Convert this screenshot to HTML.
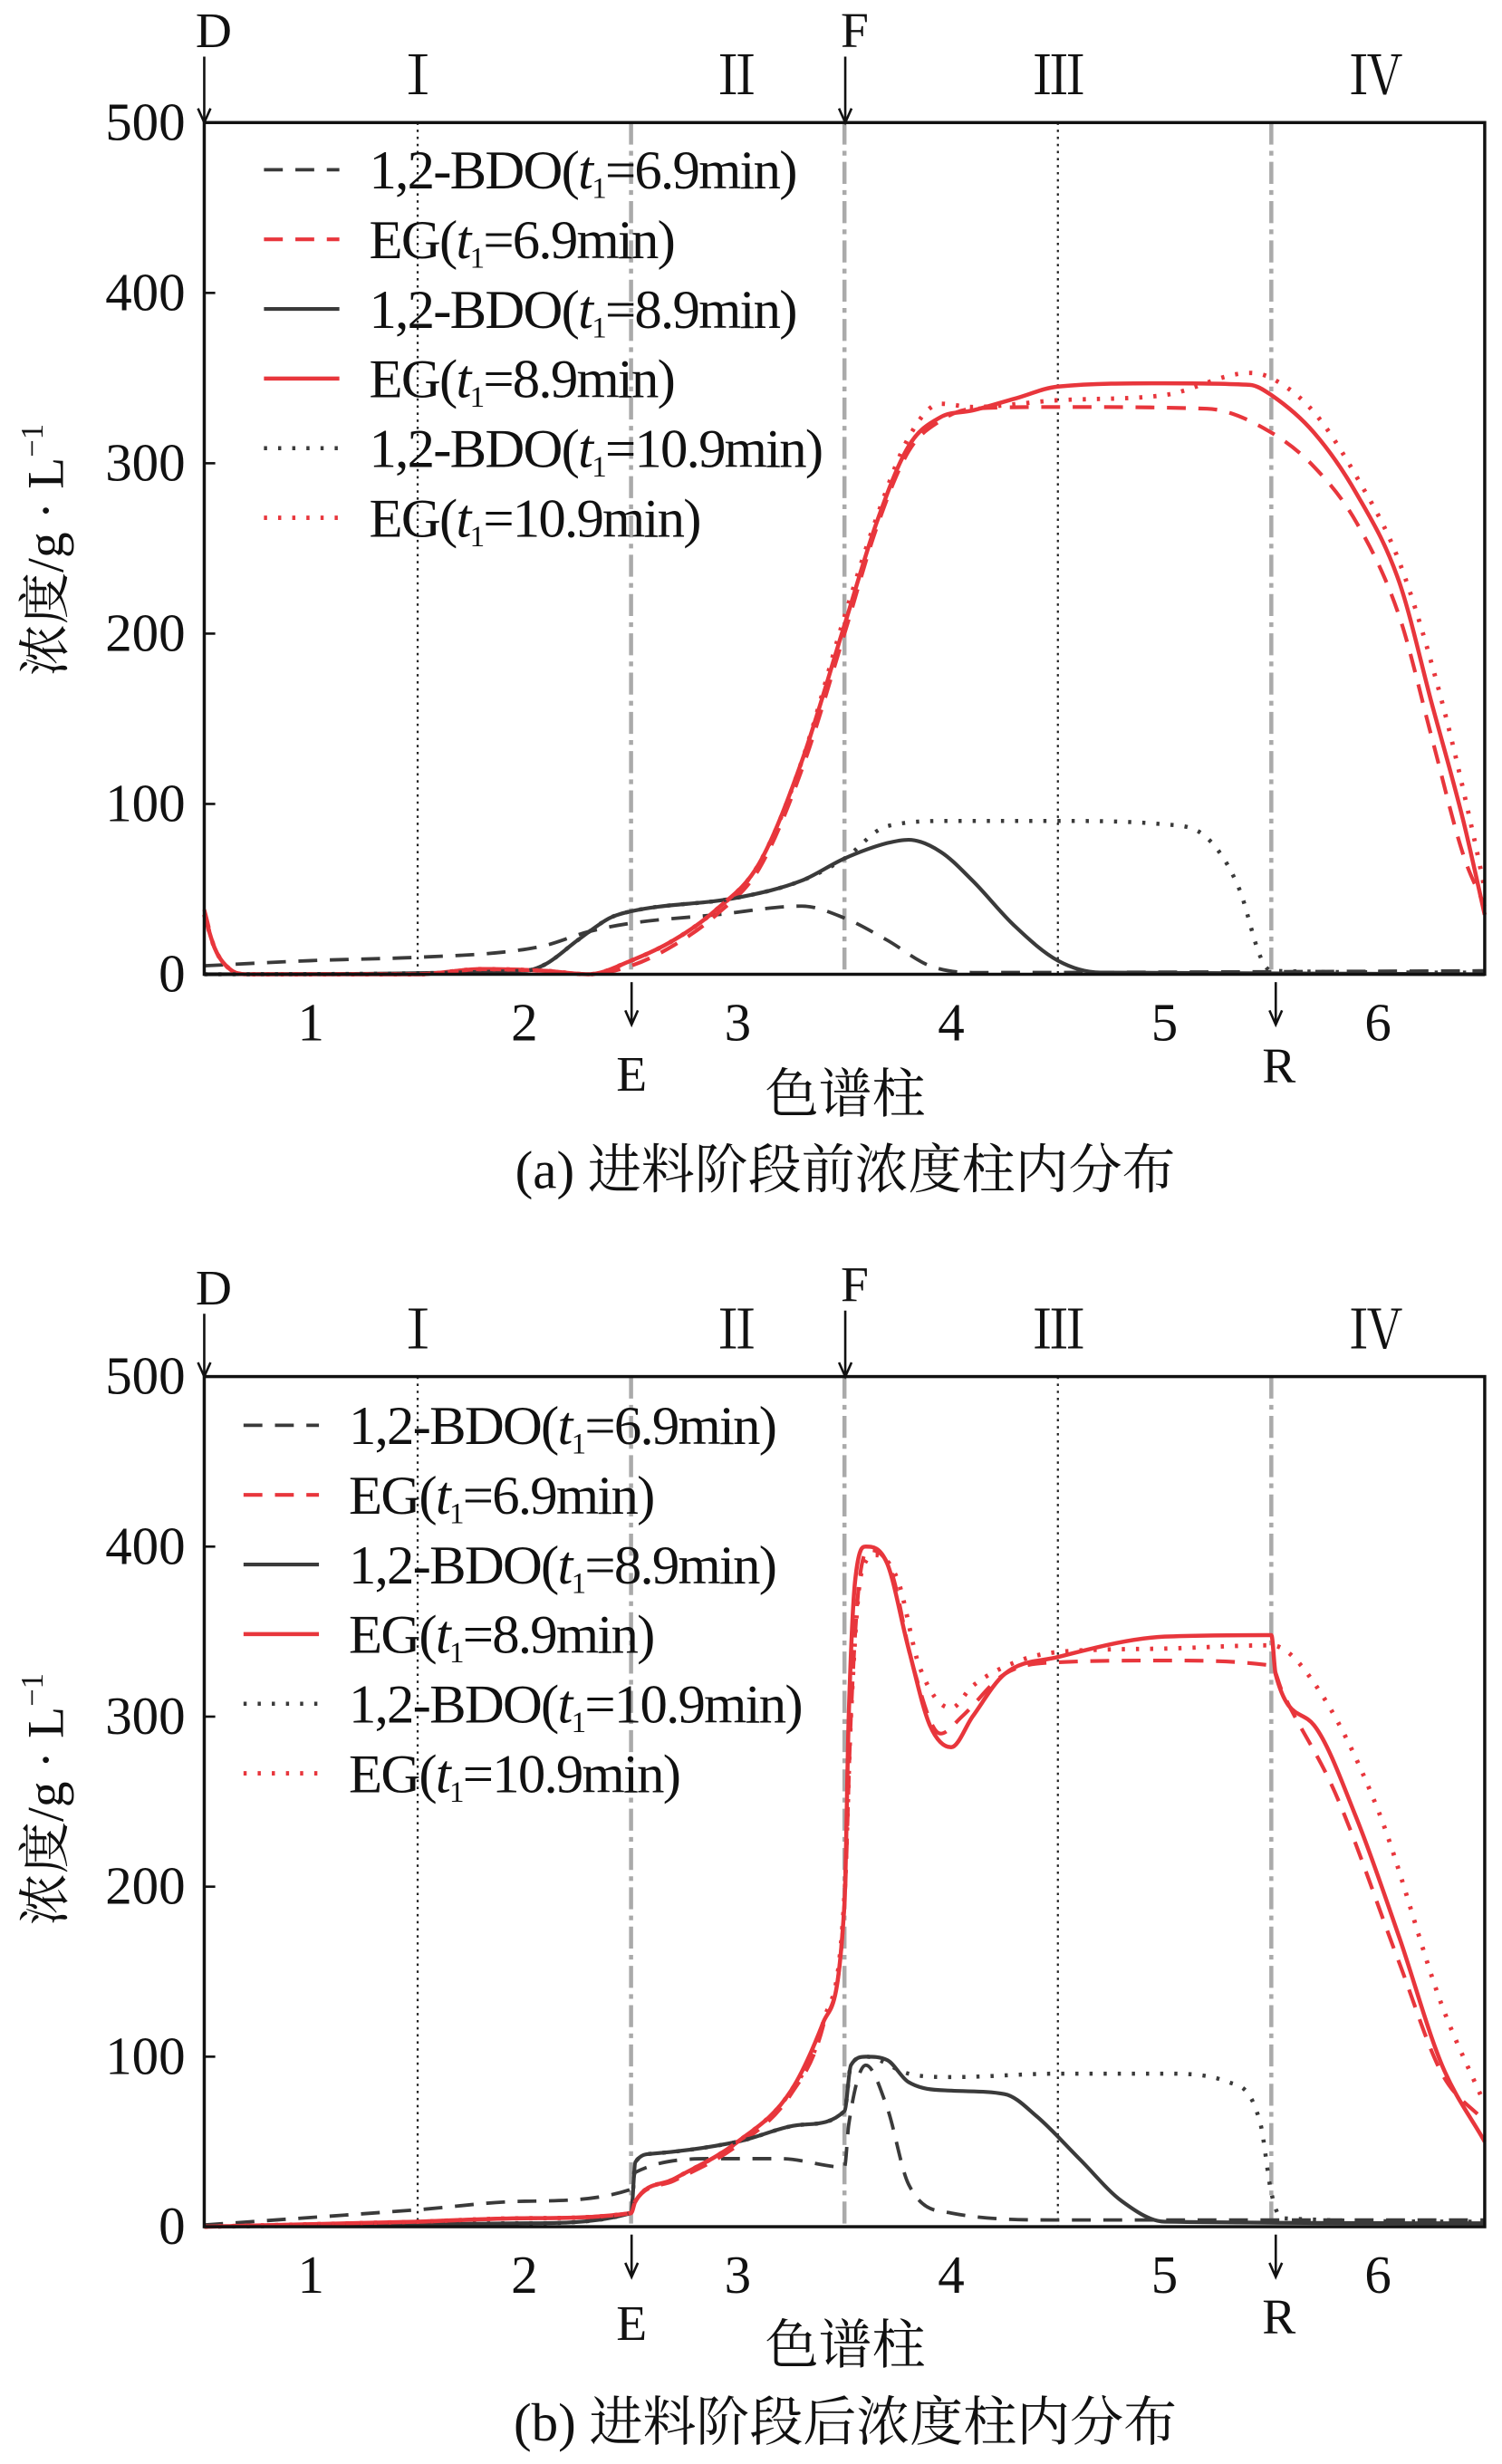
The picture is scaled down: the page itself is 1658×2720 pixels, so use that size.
<!DOCTYPE html>
<html><head><meta charset="utf-8"><style>
html,body{margin:0;padding:0;background:#fff;}
svg{display:block;}
text{font-family:"Liberation Serif","Noto Serif CJK SC","Noto Sans CJK SC",serif;fill:#111;}
</style></head><body>
<svg id="fig" width="1658" height="2720" viewBox="0 0 956 1568" preserveAspectRatio="none" xmlns="http://www.w3.org/2000/svg"></svg>
<script>
// ---- data (x in column units 0..6, y in g/L) ----
const yTicks = [0,100,200,300,400,500];
const xTickLabels = ["1","2","3","4","5","6"];
const legendLabels = ["1,2-BDO(t1=6.9min)","EG(t1=6.9min)","1,2-BDO(t1=8.9min)","EG(t1=8.9min)","1,2-BDO(t1=10.9min)","EG(t1=10.9min)"];

const aBdo69X=[0,0.5,1.0,1.4,1.6,1.8,2.0,2.4,2.8,3.0,3.2,3.4,3.6,6];
const aBdo69Y=[5,8,10,13,17,25,30,35,40,33,20,5,1,2];
const aEg69X=[0,0.05,0.12,0.2,1.0,1.3,1.6,1.8,2.0,2.2,2.4,2.6,2.8,3.0,3.15,3.3,3.45,3.6,4.0,4.7,5.0,5.2,5.4,5.6,5.75,5.9,6.0];
const aEg69Y=[38,15,3,0,0,3,2,0,5,17,35,62,120,200,262,307,325,332,333,332,318,298,265,210,140,70,40];
const aBdo89X=[0,1.5,1.6,1.75,1.9,2.0,2.5,2.8,3.0,3.2,3.3,3.45,3.6,3.8,4.0,4.2,6];
const aBdo89Y=[0,2,6,20,33,37,45,55,68,77,79,72,55,28,8,1,0];
const aEg89X=[0,0.05,0.12,0.2,1.0,1.3,1.6,1.8,2.0,2.2,2.4,2.6,2.8,3.0,3.15,3.3,3.45,3.6,3.8,4.0,4.5,4.9,5.0,5.2,5.4,5.6,5.75,5.9,6.0];
const aEg89Y=[35,15,3,0,0,3,2,0,8,20,38,65,125,205,265,310,327,331,338,345,347,346,340,318,282,230,160,90,35];
const aBdo109X=[0,1.5,1.6,1.75,1.9,2.0,2.5,2.8,3.0,3.2,3.5,4.0,4.5,4.7,4.85,4.95,5.0,6];
const aBdo109Y=[0,2,6,20,33,37,45,55,68,87,90,90,88,80,50,10,2,1];
const aEg109X=[0,0.05,0.12,0.2,1.0,1.3,1.6,1.8,2.0,2.2,2.4,2.6,2.8,3.0,3.15,3.3,3.45,3.6,4.0,4.5,4.9,5.0,5.2,5.4,5.6,5.8,5.95,6.0];
const aEg109Y=[35,15,3,0,0,3,2,0,8,20,38,65,125,210,268,315,335,333,337,340,353,350,330,292,242,160,80,50];

const bBdo69X=[0,1.0,1.5,2.0,2.02,2.4,2.7,3.0,3.02,3.1,3.2,3.3,3.5,4.0,6];
const bBdo69Y=[1,10,15,22,32,40,40,35,60,95,70,25,8,4,4];
const bEg69X=[0,1.0,1.5,2.0,2.02,2.2,2.5,2.75,2.9,3.0,3.03,3.07,3.12,3.22,3.32,3.45,3.55,3.75,4.0,4.5,5.0,5.05,5.3,5.6,5.8,6.0];
const bEg69Y=[0,3,5,8,15,27,48,78,118,190,300,380,398,385,330,290,300,325,332,333,330,315,255,155,90,62];
const bBdo89X=[0,1.5,2.0,2.02,2.1,2.5,2.8,3.0,3.03,3.1,3.2,3.3,3.5,3.75,3.9,4.1,4.3,4.5,6];
const bBdo89Y=[0,2,8,38,43,50,60,68,95,100,98,85,80,78,65,40,15,3,2];
const bEg89X=[0,1.0,1.5,2.0,2.02,2.2,2.5,2.75,2.9,3.0,3.02,3.05,3.1,3.2,3.3,3.4,3.5,3.6,3.75,4.0,4.5,5.0,5.02,5.2,5.4,5.6,5.8,6.0];
const bEg89Y=[0,3,5,8,15,28,50,80,120,190,300,380,400,390,340,295,282,300,325,335,347,348,325,295,240,170,95,50];
const bBdo109X=[0,1.5,2.0,2.02,2.1,2.5,2.8,3.0,3.03,3.1,3.3,3.5,4.0,4.5,4.8,4.95,5.0,5.05,6];
const bBdo109Y=[0,2,8,38,43,50,60,68,95,100,90,88,90,90,85,60,20,5,3];
const bEg109X=[0,1.0,1.5,2.0,2.02,2.2,2.5,2.75,2.9,3.0,3.03,3.08,3.15,3.25,3.35,3.5,3.6,3.8,4.0,4.5,5.0,5.2,5.5,5.8,6.0];
const bEg109Y=[0,3,5,8,15,28,50,80,120,195,300,385,395,380,330,305,318,332,338,340,342,320,245,130,72];

const NS="http://www.w3.org/2000/svg";
const svg=document.getElementById('fig');
function mk(tag,attrs,parent){const e=document.createElementNS(NS,tag);for(const k in attrs)e.setAttribute(k,attrs[k]);(parent||svg).appendChild(e);return e;}
const L=130,R=945,W=R-L;
const xs=c=>L+c*W/6;

// monotone cubic path
function smoothPath(P){
 const n=P.length;if(n<2)return '';
 const d=[],m=[];
 for(let i=0;i<n-1;i++){const dx=P[i+1][0]-P[i][0];d.push(dx===0?0:(P[i+1][1]-P[i][1])/dx);}
 m[0]=d[0];m[n-1]=d[n-2];
 for(let i=1;i<n-1;i++){m[i]=(d[i-1]*d[i]<=0)?0:(d[i-1]+d[i])/2;}
 for(let i=0;i<n-1;i++){if(d[i]===0){m[i]=0;m[i+1]=0;continue;}
  const a=m[i]/d[i],b=m[i+1]/d[i],s=a*a+b*b;if(s>9){const t=3/Math.sqrt(s);m[i]=t*a*d[i];m[i+1]=t*b*d[i];}}
 let s='M'+P[0][0].toFixed(1)+','+P[0][1].toFixed(1);
 for(let i=0;i<n-1;i++){const h=(P[i+1][0]-P[i][0])/3;
  s+=' C'+(P[i][0]+h).toFixed(1)+','+(P[i][1]+m[i]*h).toFixed(1)+' '+(P[i+1][0]-h).toFixed(1)+','+(P[i+1][1]-m[i+1]*h).toFixed(1)+' '+P[i+1][0].toFixed(1)+','+P[i+1][1].toFixed(1);}
 return s;
}

const styles=[
 {stroke:"#3a3a3a",dash:"12,8",w:2.2},
 {stroke:"#e8363c",dash:"12,8",w:2.4},
 {stroke:"#3a3a3a",dash:"",w:2.4},
 {stroke:"#e8363c",dash:"",w:2.6},
 {stroke:"#3a3a3a",dash:"2,7",w:2.6},
 {stroke:"#e8363c",dash:"2,7",w:2.8}
];
const seriesNames=["bdo-6-9min","eg-6-9min","bdo-8-9min","eg-8-9min","bdo-10-9min","eg-10-9min"];

function panel(id,top,zero,series,legX,legTxtX,legY0,caption,capY,titleY,xlabY,eY,rY,topLabY,dY,fY){
 const g=mk('g',{});
 
 
 const ys=v=>zero-(v/500)*(zero-top);
 [1,4].forEach(c=>{const l=mk('line',{x1:xs(c),x2:xs(c),y1:top,y2:zero,stroke:'#222','stroke-width':1.3,'stroke-dasharray':'1.5,3'},g);
  });
 [2,3,5].forEach(c=>{const l=mk('line',{x1:xs(c),x2:xs(c),y1:top,y2:zero,stroke:'#aaa','stroke-width':2.6,'stroke-dasharray':'14,4,3,4'},g);
  });
 series.forEach((s,i)=>{
  const P=s[0].map((x,k)=>[xs(x),ys(s[1][k])]);
  const st=styles[i];
  const p=mk('path',{d:smoothPath(P),fill:'none',stroke:st.stroke,'stroke-width':st.w,'stroke-linejoin':'round','stroke-dasharray':st.dash},g);
  
  
 });
 const fr=mk('rect',{x:L,y:top,width:W,height:zero-top,fill:'none',stroke:'#111','stroke-width':2},g);
 
 yTicks.forEach(v=>{
  mk('line',{x1:L,x2:L+7,y1:ys(v),y2:ys(v),stroke:'#111','stroke-width':1.5},g);
  const t=mk('text',{x:L-12,y:ys(v)+11,'text-anchor':'end','font-size':34},g);t.textContent=v;
  
 });
 xTickLabels.forEach((lab,i)=>{
  const t=mk('text',{x:xs(i+0.5),y:zero+42,'text-anchor':'middle','font-size':34},g);t.textContent=lab;
  
 });
 const yt=mk('text',{x:0,y:0,'text-anchor':'middle','font-size':33,transform:`translate(40,${titleY}) rotate(-90)`},g);
 yt.innerHTML='浓度/g · L<tspan font-size="20" dy="-13">−1</tspan>';
 
 const xt=mk('text',{x:538,y:xlabY,'text-anchor':'middle','font-size':34},g);xt.textContent='色谱柱';
 
 const ct=mk('text',{x:538,y:capY,'text-anchor':'middle','font-size':34},g);ct.textContent=caption;
 
 function arrow(x,y1,y2,name){const a=mk('g',{},g);
  mk('line',{x1:x,x2:x,y1:y1,y2:y2,stroke:'#111','stroke-width':1.5},a);
  mk('path',{d:`M${x-4},${y2-9} L${x},${y2} L${x+4},${y2-9}`,fill:'none',stroke:'#111','stroke-width':1.5},a);}
 function lab(x,y,s,name,fs){const t=mk('text',{x:x,y:y,'text-anchor':'middle','font-size':fs||32},g);t.textContent=s;}
 arrow(130,dY+6,top,'d-arrow');lab(136,dY,'D','d-label');
 arrow(538,fY+6,top,'f-arrow');lab(544,fY,'F','f-label');
 arrow(402,zero+5,zero+32,'e-arrow');lab(402,eY,'E','e-label');
 arrow(812,zero+5,zero+32,'r-arrow');lab(814,rY,'R','r-label');
 [['Ⅰ',266],['Ⅱ',469],['Ⅲ',674],['Ⅳ',876]].forEach((r,i)=>lab(r[1],topLabY,r[0],'zone-label-'+(i+1),34));
 legendLabels.forEach((s,i)=>{
  const y=legY0+i*44.3;const st=styles[i];
  const le=mk('g',{},g);
  mk('line',{x1:legX,x2:legX+48,y1:y,y2:y,stroke:st.stroke,'stroke-width':st.w,'stroke-dasharray':st.dash},le);
  const t=mk('text',{x:legTxtX,y:y+12,'font-size':35,'letter-spacing':-1},le);
  const m=s.match(/^(.*\()t1(=.*)$/);
  t.innerHTML=m[1]+'<tspan font-style="italic">t</tspan><tspan font-size="19" dy="6">1</tspan><tspan dy="-6">'+m[2]+'</tspan>';
 });
}
panel('a',78,620,[[aBdo69X,aBdo69Y],[aEg69X,aEg69Y],[aBdo89X,aBdo89Y],[aEg89X,aEg89Y],[aBdo109X,aBdo109Y],[aEg109X,aEg109Y]],
 168,235,108,'(a) 进料阶段前浓度柱内分布',756,350,708,694,689,60,30,30);
panel('b',876,1417,[[bBdo69X,bBdo69Y],[bEg69X,bEg69Y],[bBdo89X,bBdo89Y],[bEg89X,bEg89Y],[bBdo109X,bBdo109Y],[bEg109X,bEg109Y]],
 155,222,907,'(b) 进料阶段后浓度柱内分布',1553,1145,1504,1489,1485,858,830,828);
</script>
</body></html>
